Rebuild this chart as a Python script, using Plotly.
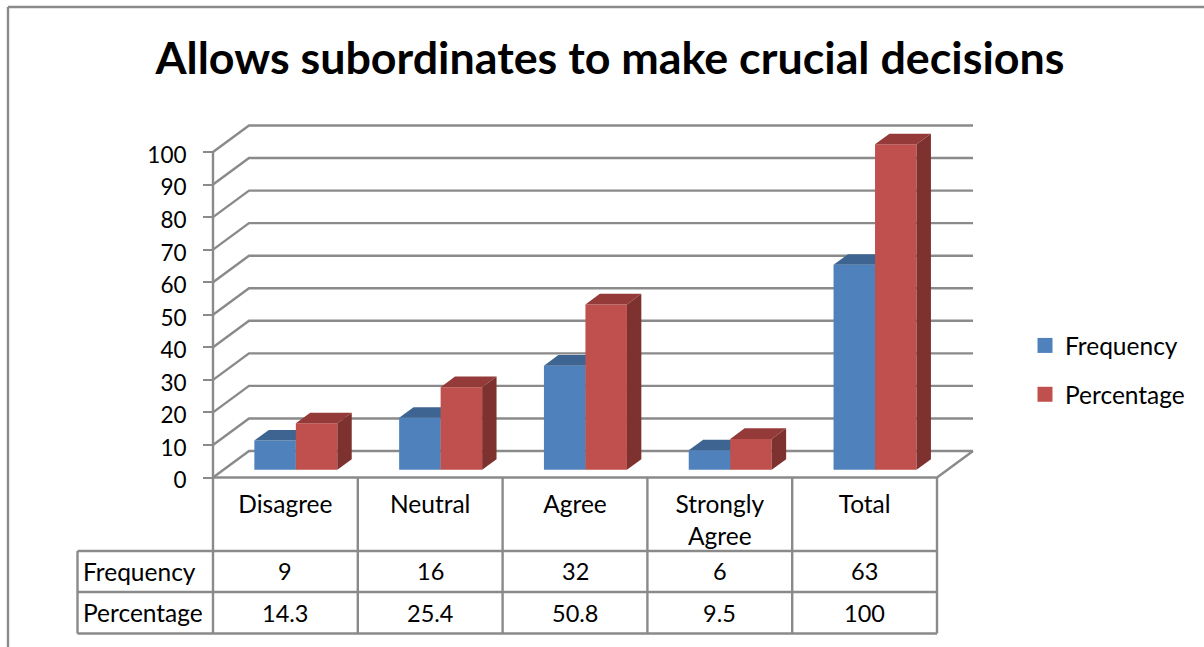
import plotly.graph_objects as go

categories = ["Disagree", "Neutral", "Agree", "Strongly<br>Agree", "Total"]
frequency = [9, 16, 32, 6, 63]
percentage = [14.3, 25.4, 50.8, 9.5, 100]
y_ticks = [0, 10, 20, 30, 40, 50, 60, 70, 80, 90, 100]
title_text = "Allows subordinates to make crucial decisions"

W, H = 1204, 647
FONT = "Lato"
TXT = "#000000"
GRID = "#8a8a8a"
BLUE, BLUE_TOP = "#4F81BD", "#3E6592"
RED, RED_TOP, RED_SIDE = "#C0504D", "#943B39", "#7E3230"

# Pixel layout of the plot box
PX_L, PX_R_FRONT, PX_R = 213, 937, 973
PX_Y0, PX_Y100 = 477.5, 152
PAD = 6                            # room round the box so edge lines are not clipped
PX_T = 126 - PAD
PX_B = PX_Y0 + PAD
UX = (PX_R_FRONT - PX_L) / len(categories)
UY = (PX_Y0 - PX_Y100) / 100
DX = (PX_R - PX_R_FRONT) / UX      # depth offset in x units
DY = 26.5 / UY                     # depth offset in y units
XRANGE = [-PAD / UX, (PX_R + PAD - PX_L) / UX]
YRANGE = [-PAD / UY, (PX_Y0 - PX_T) / UY]
BAR_D0, BAR_D1 = 0.29, 0.69
BAR_W = 41.5 / UX


def px(x):
    return x / W


def py(y):
    return 1 - y / H


fig = go.Figure()


def add_line(xs, ys):
    fig.add_trace(go.Scatter(x=xs, y=ys, mode="lines", showlegend=False, hoverinfo="skip",
                             line=dict(color=GRID, width=2.4)))


def add_poly(xs, ys, color, axes):
    fig.add_trace(go.Scatter(x=xs, y=ys, mode="lines", fill="toself", fillcolor=color,
                             line=dict(width=0), showlegend=False, hoverinfo="skip",
                             xaxis=axes[0], yaxis=axes[1]))


# Back wall grid lines and side wall diagonals
for t in y_ticks:
    add_line([0, DX, len(categories) + DX], [t, t + DY, t + DY])
add_line([0, 0], [0, y_ticks[-1]])
add_line([0, len(categories), len(categories) + DX], [0, 0, DY])


def add_series(values, name, front, top, side, offset, axes):
    xs = [i + 0.5 + BAR_D0 * DX + offset * BAR_W for i in range(len(values))]
    fig.add_trace(go.Bar(x=xs, y=values, base=[BAR_D0 * DY] * len(values), width=BAR_W,
                         marker=dict(color=front, line=dict(width=0)), name=name,
                         showlegend=False, xaxis=axes[0], yaxis=axes[1]))
    d = BAR_D1 - BAR_D0
    for x, v in zip(xs, values):
        l, r = x - BAR_W / 2, x + BAR_W / 2
        b, t = BAR_D0 * DY, BAR_D0 * DY + v
        add_poly([l, l + d * DX, r + d * DX, r, l], [t, t + d * DY, t + d * DY, t, t], top, axes)
        add_poly([r, r + d * DX, r + d * DX, r, r], [b, b + d * DY, t + d * DY, t, b], side, axes)
    fig.add_trace(go.Scatter(x=[None], y=[None], mode="markers", name=name, legendgroup=name,
                             marker=dict(symbol="square", size=15, color=front),
                             xaxis=axes[0], yaxis=axes[1]))


add_series(frequency, "Frequency", BLUE, BLUE_TOP, BLUE_TOP, -0.5, ("x2", "y2"))
add_series(percentage, "Percentage", RED, RED_TOP, RED_SIDE, 0.5, ("x3", "y3"))

# Data table under the plot
ROW_TOP, ROW_1, ROW_2, ROW_3 = PX_Y0, 551, 592, 633.5
shapes = [
    dict(type="line", xref="paper", yref="paper", x0=px(8), x1=px(8), y0=py(7), y1=py(647)),
    dict(type="line", xref="paper", yref="paper", x0=px(8), x1=px(1204), y0=py(7), y1=py(7)),
    dict(type="line", xref="paper", yref="paper", x0=px(77.5), x1=px(77.5), y0=py(ROW_1), y1=py(ROW_3)),
]
for yy in (ROW_1, ROW_2, ROW_3):
    shapes.append(dict(type="line", xref="paper", yref="paper", x0=px(77.5), x1=px(PX_R_FRONT),
                       y0=py(yy), y1=py(yy)))
for k in range(len(categories) + 1):
    shapes.append(dict(type="line", xref="x", yref="paper", x0=k, x1=k, y0=py(ROW_TOP), y1=py(ROW_3)))
for s in shapes:
    s["line"] = dict(color=GRID, width=2.4)

annotations = []
for row_name, values, yy in (("Frequency", frequency, 571), ("Percentage", percentage, 612.5)):
    annotations.append(dict(text=row_name, xref="paper", yref="paper", x=px(81), y=py(yy),
                            xanchor="left", yanchor="middle", showarrow=False,
                            font=dict(size=24.5)))
    for i, v in enumerate(values):
        annotations.append(dict(text=str(v), xref="x", yref="paper", x=i + 0.5, y=py(yy),
                                xanchor="center", yanchor="middle", showarrow=False,
                                font=dict(size=23.5)))

domx = [px(PX_L - PAD), px(PX_R + PAD)]
domy = [py(PX_B), py(PX_T)]
hidden = dict(domain=domx, range=XRANGE, visible=False, fixedrange=True)
hiddeny = dict(domain=domy, range=YRANGE, visible=False, fixedrange=True)

fig.update_layout(
    width=W, height=H, autosize=False,
    margin=dict(l=0, r=0, t=0, b=0, autoexpand=False),
    paper_bgcolor="white", plot_bgcolor="rgba(0,0,0,0)",
    font=dict(family=FONT, size=22, color=TXT),
    barmode="overlay",
    title=dict(text=title_text, x=610 / W, xanchor="center", y=py(58), yanchor="middle",
               font=dict(family=FONT, size=44.8, color="#000000", weight="bold")),
    xaxis=dict(domain=domx, range=XRANGE, tickmode="array",
               tickvals=[i + 0.5 for i in range(len(categories))], ticktext=categories,
               tickfont=dict(size=24.5), anchor="free", position=py(PX_Y0),
               showgrid=False, zeroline=False, showline=False, ticks="", ticklabelstandoff=10,
               fixedrange=True),
    yaxis=dict(domain=domy, range=YRANGE, tickmode="array", tickvals=y_ticks,
               tickfont=dict(size=22.5), anchor="free", position=px(PX_L),
               showgrid=False, zeroline=False, showline=False, ticks="outside", ticklen=10,
               tickwidth=2.4, tickcolor=GRID, ticklabelstandoff=12, ticklabelshift=3,
               fixedrange=True),
    xaxis2=dict(hidden, overlaying="x", anchor="y2"),
    yaxis2=dict(hiddeny, overlaying="y", anchor="x2"),
    xaxis3=dict(hidden, overlaying="x", anchor="y3"),
    yaxis3=dict(hiddeny, overlaying="y", anchor="x3"),
    legend=dict(x=px(1025), y=py(323), xanchor="left", yanchor="top", tracegroupgap=14,
                bgcolor="rgba(0,0,0,0)", font=dict(family=FONT, size=24.5, color=TXT)),
    shapes=shapes,
    annotations=annotations,
    hovermode=False,
)

fig.write_html("out.html", config=dict(displayModeBar=False),
               post_script="document.body.style.margin='0';document.body.style.overflow='hidden';")
